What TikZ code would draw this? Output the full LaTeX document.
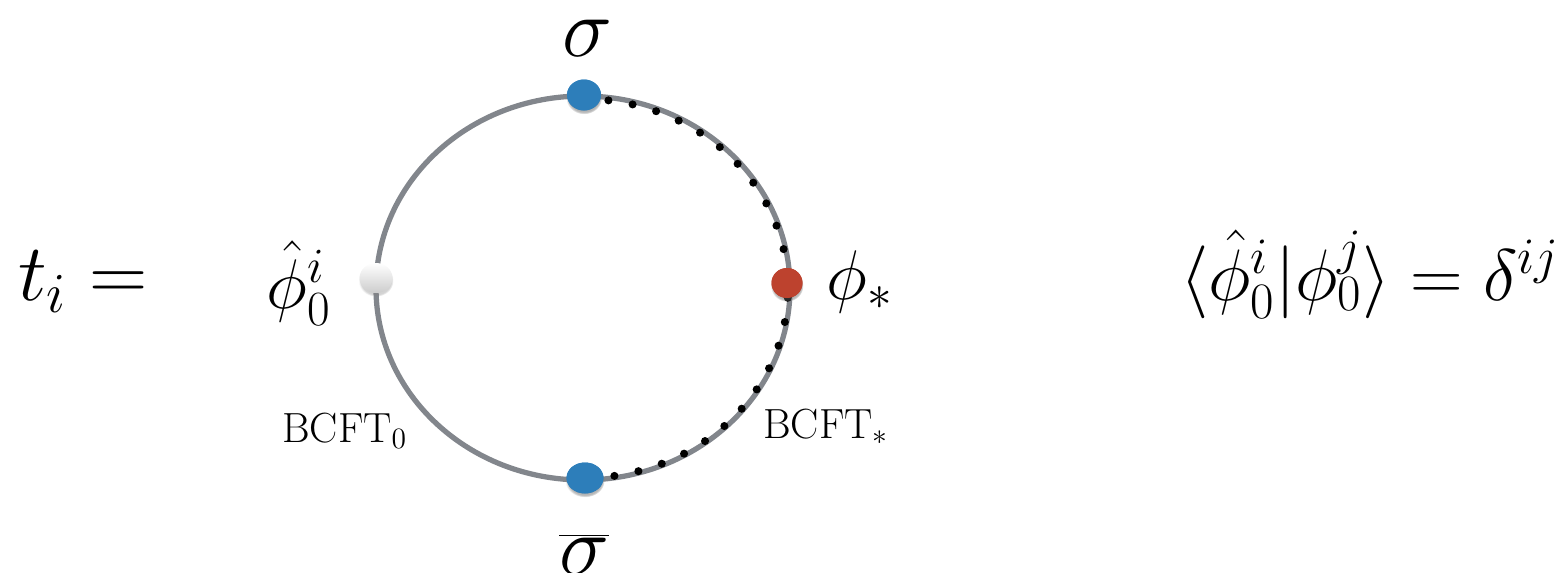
\documentclass[tikz,border=0pt]{standalone}
\usepackage{fix-cm}
\usepackage{tikz}
\usetikzlibrary{shapes.geometric, shadows, calc}
\definecolor{sigblue}{RGB}{45,126,186}
\definecolor{phired}{RGB}{189,66,46}
\definecolor{linegray}{RGB}{130,134,140}
\tikzset{
  dotbase/.style  = {ellipse, inner sep=0pt, draw=none,
                     circular drop shadow={shadow xshift=0pt, shadow yshift=-1.5pt, shadow scale=1.06, opacity=0.35}},
  sigdot/.style   = {dotbase, fill=sigblue, minimum width=0.68cm, minimum height=0.62cm},
  stardot/.style  = {dotbase, fill=phired, minimum width=0.62cm, minimum height=0.6cm},
  hatdot/.style   = {dotbase, top color=white, bottom color=black!20, minimum width=0.66cm, minimum height=0.6cm},
  bigmath/.style  = {inner sep=0pt, font=\fontsize{40}{48}\selectfont},
  sigmath/.style  = {inner sep=0pt, font=\fontsize{48}{56}\selectfont},
  bcft/.style     = {inner sep=0pt, font=\fontsize{24}{29}\selectfont},
  rim/.style      = {line width=3pt, color=linegray},
  dotline/.style  = {line width=4.6pt, line cap=round, dash pattern=on 0pt off 0.49cm, color=black},
}
\begin{document}
\begin{tikzpicture}[x=0.02cm, y=-0.02cm]
  \useasboundingbox (0,0) rectangle (1566,572);

  % Boundary circle
  \coordinate (c) at (583,288);
  \draw[rim] (c) ellipse [x radius=207, y radius=192];

  % Operator insertions
  \node[sigdot]  (sigtop)  at (584,95)  {};
  \node[sigdot, minimum width=0.74cm] (sigbot) at (585,478) {};
  \node[hatdot]  (phihat)  at (376,278) {};
  \node[stardot] (phistar) at (787,283) {};

  % Dotted half (BCFT_*), dots redrawn on top
  \draw[dotline] ($(sigtop.center)+(0,4)$) arc [start angle=-90, end angle=90, x radius=204, y radius=189.5] coordinate (dotend);
  \node[sigdot]  at (sigtop) {};
  \node[sigdot, minimum width=0.74cm] at (sigbot) {};
  \node[stardot] at (phistar) {};

  % Labels
  \node[sigmath, anchor=base west] (sigtoplbl) at (562,56)  {$\sigma$};
  \node[sigmath, anchor=base west] (sigbotlbl) at (559,574) {$\overline{\sigma}$};
  \node[bigmath, anchor=base west] (hatlbl)    at (266,308) {$\hat{\phi}^i_0$};
  \node[bigmath, anchor=base west] (starlbl)   at (826,299) {$\phi_*$};
  \node[bcft, anchor=base west]    (bcftzero)  at (282,442) {BCFT$_0$};
  \node[bcft, anchor=base west]    (bcftstar)  at (763,438) {BCFT$_*$};

  % Left and right formulas
  \node[bigmath, font=\fontsize{46}{54}\selectfont, anchor=base west] (tlbl) at (18,300) {$t_i =$};
  \node[bigmath, font=\fontsize{41.5}{50}\selectfont, anchor=base west] (ortho) at (1180,300) {$\langle\hat{\phi}^i_0|\phi^j_0\rangle = \delta^{ij}$};
\end{tikzpicture}
\end{document}
